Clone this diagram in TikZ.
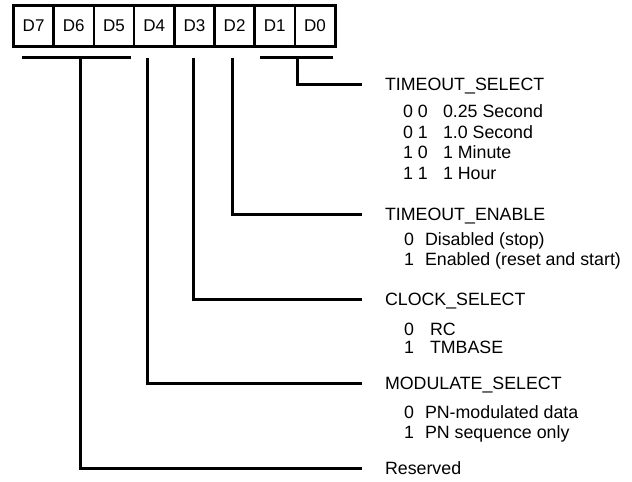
\documentclass[tikz,border=0pt]{standalone}
\usepackage{fontspec}
\setmainfont{Liberation Sans}
\begin{document}
\begin{tikzpicture}[x=1pt,y=-1pt,
  cell/.style={draw, line width=2.5pt, minimum width=40.25pt, minimum height=41pt, inner sep=0pt, outer sep=0pt, font=\fontsize{17}{19}\selectfont},
  lbl/.style={anchor=base west, inner sep=0pt, outer sep=0pt, font=\fontsize{17.8}{20}\selectfont},
  wire/.style={line width=3pt}]
\useasboundingbox (0,0) rectangle (632,482);
% register cells
\foreach \n [count=\i from 0] in {7,6,5,4,3,2,1,0}
  \node[cell] (d\n) at ({13.5+40.2*(\i+0.5)},25.5) {D\n};
\draw[line width=3pt] (d7.north west) rectangle (d0.south east);
% group bars and taps
\coordinate (bl) at (22,57);
\coordinate (br) at (131,57);
\coordinate (b6) at (80,57);
\coordinate (cl) at (260,57);
\coordinate (cr) at (333,57);
\coordinate (b0) at (297,57);
\coordinate (b4) at (147,58);
\coordinate (b3) at (193,58);
\coordinate (b2) at (232,58);
% line ends
\coordinate (e0) at (362,84);
\coordinate (e2) at (362,214);
\coordinate (e3) at (362,299);
\coordinate (e4) at (362,383);
\coordinate (e6) at (362,468);
\draw[wire] (bl) -- (br);
\draw[wire] (cl) -- (cr);
\draw[wire] (b0) |- (e0);
\draw[wire] (b2) |- (e2);
\draw[wire] (b3) |- (e3);
\draw[wire] (b4) |- (e4);
\draw[wire] (b6) |- (e6);
% headings
\node[lbl] (h0) at (385,90) {TIMEOUT\_SELECT};
\node[lbl] (h2) at (385,220) {TIMEOUT\_ENABLE};
\node[lbl] (h3) at (385,305) {CLOCK\_SELECT};
\node[lbl] (h4) at (385,389) {MODULATE\_SELECT};
\node[lbl] (h6) at (385,474) {Reserved};
% TIMEOUT_SELECT values
\node[lbl] (t0c) at (403,117.5) {0 0};
\node[lbl] (t0v) at (443,117.5) {0.25 Second};
\node[lbl] (t1c) at (403,138) {0 1};
\node[lbl] (t1v) at (443,138) {1.0 Second};
\node[lbl] (t2c) at (403,158.5) {1 0};
\node[lbl] (t2v) at (443,158.5) {1 Minute};
\node[lbl] (t3c) at (403,179) {1 1};
\node[lbl] (t3v) at (443,179) {1 Hour};
% TIMEOUT_ENABLE values
\node[lbl] (en0c) at (404,245.5) {0};
\node[lbl] (en0v) at (425,245.5) {Disabled (stop)};
\node[lbl] (en1c) at (404,265.5) {1};
\node[lbl] (en1v) at (425,265.5) {Enabled (reset and start)};
% CLOCK_SELECT values
\node[lbl] (ck0c) at (404,335) {0};
\node[lbl] (ck0v) at (430,335) {RC};
\node[lbl] (ck1c) at (404,353) {1};
\node[lbl] (ck1v) at (430,353) {TMBASE};
% MODULATE_SELECT values
\node[lbl] (m0c) at (404,418) {0};
\node[lbl] (m0v) at (425,418) {PN-modulated data};
\node[lbl] (m1c) at (404,438) {1};
\node[lbl] (m1v) at (425,438) {PN sequence only};
\end{tikzpicture}
\end{document}
